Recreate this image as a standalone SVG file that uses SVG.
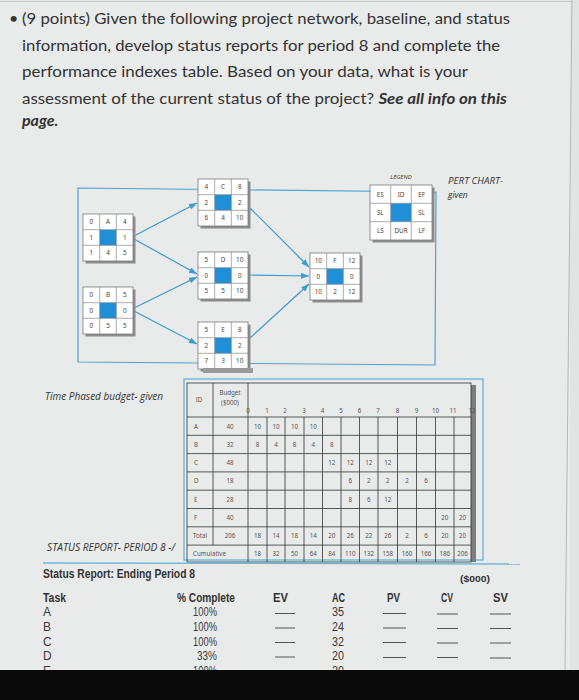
<svg xmlns="http://www.w3.org/2000/svg" xmlns:xlink="http://www.w3.org/1999/xlink" width="579" height="700" viewBox="0 0 579 700">
<style>
.title{font-family:Lato,"Open Sans",sans-serif;font-size:16px;fill:#333}
.nt{font-family:"Noto Sans","Open Sans",sans-serif;font-size:6.3px;fill:#444;text-anchor:middle}
.tt{font-family:"Noto Sans","Open Sans",sans-serif;font-size:6.2px;fill:#555;text-anchor:middle}
.tl{font-family:"Noto Sans","Open Sans",sans-serif;font-size:6.2px;fill:#555;text-anchor:start}
.lbl{font-family:"Open Sans","Noto Sans",sans-serif;font-style:italic;fill:#333}
.sr{font-family:"Liberation Sans",Arial,sans-serif;fill:#3a3a3a}
.srb{font-family:"Liberation Sans",Arial,sans-serif;font-weight:bold;fill:#333}
.grid{stroke:#333;stroke-width:0.8;fill:none}
.blank{stroke:#555;stroke-width:1}
.conn{stroke:#3b9bd3;stroke-width:1.2;fill:none;marker-end:url(#ah)}
</style>
<defs>
<marker id="ah" markerUnits="userSpaceOnUse" markerWidth="8" markerHeight="6" refX="8" refY="3" orient="auto">
<path d="M0,0 L8,3 L0,6 z" fill="#3b9bd3"/>
</marker>
<g id="nodebox">
<rect x="2.5" y="2.5" width="50" height="47" fill="#8c8c8c"/>
<rect x="0" y="0" width="50" height="47" fill="#fff" stroke="#7a7a7a" stroke-width="0.8"/>
<rect x="16.7" y="15.7" width="16.6" height="15.6" fill="#1f8fd8"/>
<path d="M16.7,0 V47 M33.3,0 V47 M0,15.7 H50 M0,31.3 H50" stroke="#8a8a8a" stroke-width="0.7"/>
</g>
</defs>
<rect width="579" height="700" fill="#e9eaea"/>
<rect x="570" y="0" width="9" height="700" fill="#e2e3e3"/>
<line x1="0" y1="1.5" x2="572" y2="1.5" stroke="#c8c8c8" stroke-width="1"/>
<line x1="572" y1="0" x2="565" y2="670" stroke="#b8b8b8" stroke-width="1"/>

<text class="title" x="9" y="24">•</text>
<text class="title" x="22" y="24" textLength="488" lengthAdjust="spacingAndGlyphs">(9 points) Given the following project network, baseline, and status</text>
<text class="title" x="22" y="51" textLength="478" lengthAdjust="spacingAndGlyphs">information, develop status reports for period 8 and complete the</text>
<text class="title" x="22" y="77" textLength="446" lengthAdjust="spacingAndGlyphs">performance indexes table. Based on your data, what is your</text>
<text class="title" x="22" y="104" textLength="485" lengthAdjust="spacingAndGlyphs">assessment of the current status of the project? <tspan font-weight="bold" font-style="italic">See all info on this</tspan></text>
<text class="title" x="22" y="126" font-weight="bold" font-style="italic">page.</text>

<path d="M78,188 L436,192 L435,365 L78,362 Z" fill="none" stroke="#4aa3d4" stroke-width="1.2"/>

<g id="connectors">
<line class="conn" x1="134" y1="236" x2="197" y2="203"/>
<line class="conn" x1="134" y1="239" x2="197" y2="274"/>
<line class="conn" x1="134" y1="308" x2="197" y2="277"/>
<line class="conn" x1="134" y1="311" x2="197" y2="344"/>
<line class="conn" x1="250" y1="208" x2="309" y2="267"/>
<line class="conn" x1="250" y1="275" x2="309" y2="276"/>
<line class="conn" x1="250" y1="338" x2="309" y2="284"/>
</g>

<g id="node-A" transform="translate(83,214)">
<use xlink:href="#nodebox"/>
<text class="nt" x="8.3" y="10.2">0</text><text class="nt" x="25" y="10.2">A</text><text class="nt" x="41.7" y="10.2">4</text>
<text class="nt" x="8.3" y="25.8">1</text><text class="nt" x="41.7" y="25.8">1</text>
<text class="nt" x="8.3" y="41.4">1</text><text class="nt" x="25" y="41.4">4</text><text class="nt" x="41.7" y="41.4">5</text>
</g>
<g id="node-B" transform="translate(83,287)">
<use xlink:href="#nodebox"/>
<text class="nt" x="8.3" y="10.2">0</text><text class="nt" x="25" y="10.2">B</text><text class="nt" x="41.7" y="10.2">5</text>
<text class="nt" x="8.3" y="25.8">0</text><text class="nt" x="41.7" y="25.8">0</text>
<text class="nt" x="8.3" y="41.4">0</text><text class="nt" x="25" y="41.4">5</text><text class="nt" x="41.7" y="41.4">5</text>
</g>
<g id="node-C" transform="translate(198,179)">
<use xlink:href="#nodebox"/>
<text class="nt" x="8.3" y="10.2">4</text><text class="nt" x="25" y="10.2">C</text><text class="nt" x="41.7" y="10.2">8</text>
<text class="nt" x="8.3" y="25.8">2</text><text class="nt" x="41.7" y="25.8">2</text>
<text class="nt" x="8.3" y="41.4">6</text><text class="nt" x="25" y="41.4">4</text><text class="nt" x="41.7" y="41.4">10</text>
</g>
<g id="node-D" transform="translate(198,252)">
<use xlink:href="#nodebox"/>
<text class="nt" x="8.3" y="10.2">5</text><text class="nt" x="25" y="10.2">D</text><text class="nt" x="41.7" y="10.2">10</text>
<text class="nt" x="8.3" y="25.8">0</text><text class="nt" x="41.7" y="25.8">0</text>
<text class="nt" x="8.3" y="41.4">5</text><text class="nt" x="25" y="41.4">5</text><text class="nt" x="41.7" y="41.4">10</text>
</g>
<g id="node-E" transform="translate(198,322)">
<use xlink:href="#nodebox"/>
<text class="nt" x="8.3" y="10.2">5</text><text class="nt" x="25" y="10.2">E</text><text class="nt" x="41.7" y="10.2">8</text>
<text class="nt" x="8.3" y="25.8">2</text><text class="nt" x="41.7" y="25.8">2</text>
<text class="nt" x="8.3" y="41.4">7</text><text class="nt" x="25" y="41.4">3</text><text class="nt" x="41.7" y="41.4">10</text>
</g>
<g id="node-F" transform="translate(310,253)">
<use xlink:href="#nodebox"/>
<text class="nt" x="8.3" y="10.2">10</text><text class="nt" x="25" y="10.2">F</text><text class="nt" x="41.7" y="10.2">12</text>
<text class="nt" x="8.3" y="25.8">0</text><text class="nt" x="41.7" y="25.8">0</text>
<text class="nt" x="8.3" y="41.4">10</text><text class="nt" x="25" y="41.4">2</text><text class="nt" x="41.7" y="41.4">12</text>
</g>
<g id="legend" transform="translate(370,185)">
<text class="lbl" x="31" y="-6" font-size="6" text-anchor="middle" fill="#555">LEGEND</text>
<rect x="2.5" y="2.5" width="62" height="55" fill="#8c8c8c"/>
<rect x="0" y="0" width="62" height="55" fill="#fff" stroke="#7a7a7a" stroke-width="0.8"/>
<rect x="20.7" y="18.3" width="20.6" height="18.4" fill="#1f8fd8"/>
<path d="M20.7,0 V55 M41.3,0 V55 M0,18.3 H62 M0,36.7 H62" stroke="#8a8a8a" stroke-width="0.7"/>
<text class="nt" x="10.3" y="11.5">ES</text><text class="nt" x="31" y="11.5">ID</text><text class="nt" x="51.7" y="11.5">EF</text>
<text class="nt" x="10.3" y="29.8">SL</text><text class="nt" x="51.7" y="29.8">SL</text>
<text class="nt" x="10.3" y="48">LS</text><text class="nt" x="31" y="48">DUR</text><text class="nt" x="51.7" y="48">LF</text>
</g>
<text class="lbl" x="448" y="184" font-size="8.5" textLength="55" lengthAdjust="spacingAndGlyphs">PERT CHART-</text>
<text class="lbl" x="448" y="198" font-size="8.5">given</text>

<text class="lbl" x="45" y="400" font-size="10" textLength="118" lengthAdjust="spacingAndGlyphs">Time Phased budget- given</text>

<g id="budget-table">
<rect x="203" y="368" width="50" height="5" fill="#9a9a9a"/>
<rect x="184" y="379" width="299" height="181" fill="none" stroke="#5ab0d8" stroke-width="1.2"/>
<rect x="471" y="385" width="5" height="177" fill="#7d7d7d"/>
<rect x="187" y="383" width="284" height="179" class="grid"/>
<path class="grid" d="M187,417 H471 M187,435.3 H471 M187,453.6 H471 M187,471.9 H471 M187,490.2 H471 M187,508.5 H471 M187,526.8 H471 M187,545.1 H471 M213,383 V545.1 M248,383 V562 M267,417 V562 M285,417 V562 M304,417 V562 M322.5,417 V562 M341,417 V562 M359.5,417 V562 M378,417 V562 M397.5,417 V562 M416.5,417 V562 M435.5,417 V562 M454,417 V562"/>
<text class="tt" x="199" y="402">ID</text>
<text class="tt" x="230" y="395" font-size="5.8">Budget</text>
<text class="tt" x="230" y="404.5" font-size="5.8">($000)</text>
<text class="tt" x="248" y="413">0</text><text class="tt" x="267" y="413">1</text><text class="tt" x="285" y="413">2</text><text class="tt" x="304" y="413">3</text><text class="tt" x="322.5" y="413">4</text><text class="tt" x="341" y="413">5</text><text class="tt" x="359.5" y="413">6</text><text class="tt" x="378" y="413">7</text><text class="tt" x="397.5" y="413">8</text><text class="tt" x="416.5" y="413">9</text><text class="tt" x="435.5" y="413">10</text><text class="tt" x="453" y="413">11</text><text class="tt" x="472" y="413">12</text>
<text class="tl" x="194" y="428.5">A</text><text class="tt" x="230" y="428.5">40</text>
<text class="tt" x="257.5" y="428.5">10</text><text class="tt" x="276" y="428.5">10</text><text class="tt" x="294.5" y="428.5">10</text><text class="tt" x="313.2" y="428.5">10</text>
<text class="tl" x="194" y="446.8">B</text><text class="tt" x="230" y="446.8">32</text>
<text class="tt" x="257.5" y="446.8">8</text><text class="tt" x="276" y="446.8">4</text><text class="tt" x="294.5" y="446.8">8</text><text class="tt" x="313.2" y="446.8">4</text><text class="tt" x="331.7" y="446.8">8</text>
<text class="tl" x="194" y="465.1">C</text><text class="tt" x="230" y="465.1">48</text>
<text class="tt" x="331.7" y="465.1">12</text><text class="tt" x="350.2" y="465.1">12</text><text class="tt" x="368.7" y="465.1">12</text><text class="tt" x="387.7" y="465.1">12</text>
<text class="tl" x="194" y="483.4">D</text><text class="tt" x="230" y="483.4">18</text>
<text class="tt" x="350.2" y="483.4">6</text><text class="tt" x="368.7" y="483.4">2</text><text class="tt" x="387.7" y="483.4">2</text><text class="tt" x="407" y="483.4">2</text><text class="tt" x="426" y="483.4">6</text>
<text class="tl" x="194" y="501.7">E</text><text class="tt" x="230" y="501.7">28</text>
<text class="tt" x="350.2" y="501.7">8</text><text class="tt" x="368.7" y="501.7">6</text><text class="tt" x="387.7" y="501.7">12</text>
<text class="tl" x="194" y="520">F</text><text class="tt" x="230" y="520">40</text>
<text class="tt" x="444.7" y="520">20</text><text class="tt" x="462.5" y="520">20</text>
<text class="tl" x="193" y="538.3">Total</text><text class="tt" x="230" y="538.3">206</text>
<text class="tt" x="257.5" y="538.3">18</text><text class="tt" x="276" y="538.3">14</text><text class="tt" x="294.5" y="538.3">18</text><text class="tt" x="313.2" y="538.3">14</text><text class="tt" x="331.7" y="538.3">20</text><text class="tt" x="350.2" y="538.3">26</text><text class="tt" x="368.7" y="538.3">22</text><text class="tt" x="387.7" y="538.3">26</text><text class="tt" x="407" y="538.3">2</text><text class="tt" x="426" y="538.3">6</text><text class="tt" x="444.7" y="538.3">20</text><text class="tt" x="462.5" y="538.3">20</text>
<text class="tl" x="193" y="555.6">Cumulative</text>
<text class="tt" x="257.5" y="555.6">18</text><text class="tt" x="276" y="555.6">32</text><text class="tt" x="294.5" y="555.6">50</text><text class="tt" x="313.2" y="555.6">64</text><text class="tt" x="331.7" y="555.6">84</text><text class="tt" x="350.2" y="555.6">110</text><text class="tt" x="368.7" y="555.6">132</text><text class="tt" x="387.7" y="555.6">158</text><text class="tt" x="407" y="555.6">160</text><text class="tt" x="426" y="555.6">166</text><text class="tt" x="444.7" y="555.6">186</text><text class="tt" x="462.5" y="555.6">206</text>
</g>

<text class="lbl" x="47" y="551" font-size="10" textLength="128" lengthAdjust="spacingAndGlyphs">STATUS REPORT- PERIOD 8 -/</text>
<line x1="43" y1="563" x2="520" y2="564" stroke="#6fb6d8" stroke-width="1.3"/>

<g id="status-report">
<text class="srb" x="43" y="577.5" font-size="12.5" textLength="152" lengthAdjust="spacingAndGlyphs">Status Report: Ending Period 8</text>
<text class="srb" x="460" y="581.5" font-size="9.5" textLength="30" lengthAdjust="spacingAndGlyphs">($000)</text>
<text class="srb" x="43" y="601.5" font-size="12" textLength="23" lengthAdjust="spacingAndGlyphs">Task</text>
<text class="srb" x="177" y="601.5" font-size="12" textLength="58" lengthAdjust="spacingAndGlyphs">% Complete</text>
<text class="srb" x="273" y="601.5" font-size="12" textLength="15" lengthAdjust="spacingAndGlyphs">EV</text>
<text class="srb" x="332" y="601.5" font-size="12" textLength="13" lengthAdjust="spacingAndGlyphs">AC</text>
<text class="srb" x="387" y="601.5" font-size="12" textLength="13" lengthAdjust="spacingAndGlyphs">PV</text>
<text class="srb" x="441" y="601.5" font-size="12" textLength="12" lengthAdjust="spacingAndGlyphs">CV</text>
<text class="srb" x="493" y="601.5" font-size="12" textLength="15" lengthAdjust="spacingAndGlyphs">SV</text>
<g font-size="12">
<text class="sr" x="43" y="616">A</text><text class="sr" x="217" y="616" text-anchor="end" textLength="24" lengthAdjust="spacingAndGlyphs">100%</text><text class="sr" x="332" y="616" textLength="12" lengthAdjust="spacingAndGlyphs">35</text>
<text class="sr" x="43" y="631">B</text><text class="sr" x="217" y="631" text-anchor="end" textLength="24" lengthAdjust="spacingAndGlyphs">100%</text><text class="sr" x="332" y="631" textLength="12" lengthAdjust="spacingAndGlyphs">24</text>
<text class="sr" x="43" y="645.5">C</text><text class="sr" x="217" y="645.5" text-anchor="end" textLength="24" lengthAdjust="spacingAndGlyphs">100%</text><text class="sr" x="332" y="645.5" textLength="12" lengthAdjust="spacingAndGlyphs">32</text>
<text class="sr" x="43" y="660">D</text><text class="sr" x="217" y="660" text-anchor="end" textLength="20" lengthAdjust="spacingAndGlyphs">33%</text><text class="sr" x="332" y="660" textLength="12" lengthAdjust="spacingAndGlyphs">20</text>
<text class="sr" x="43" y="675">E</text><text class="sr" x="217" y="675" text-anchor="end" textLength="24" lengthAdjust="spacingAndGlyphs">100%</text><text class="sr" x="332" y="675" textLength="12" lengthAdjust="spacingAndGlyphs">20</text>
</g>
<path class="blank" d="M275,613.5 H295 M275,628 H295 M275,642.5 H295 M275,657 H295 M383,613.5 H406 M383,628 H406 M383,642.5 H406 M383,657.5 H406 M437,614 H458 M437,628.5 H458 M437,643 H458 M437,657.5 H458 M490,614 H511 M490,628.5 H511 M490,643 H511 M490,658 H511"/>
</g>
<rect x="0" y="670" width="579" height="30" fill="#0a0a0a"/>
</svg>
